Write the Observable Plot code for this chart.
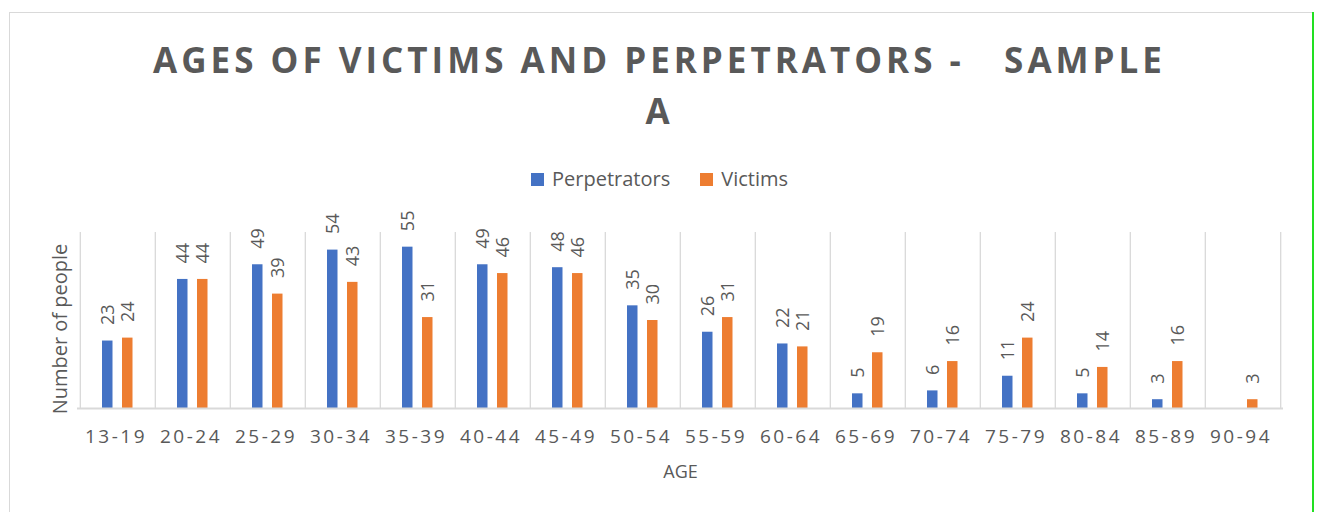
<!DOCTYPE html>
<html><head><meta charset="utf-8">
<script src="https://cdn.jsdelivr.net/npm/d3@7"></script>
<script src="https://cdn.jsdelivr.net/npm/@observablehq/plot@0.6"></script>
<style>
body{margin:0;background:#fff;font-family:"Open Sans",sans-serif;}
#wrap{position:relative;width:1319px;height:512px;overflow:hidden;}
#frame{position:absolute;left:9px;top:12px;width:1304px;height:600px;border:1.5px solid #d9d9d9;box-sizing:border-box;}
#green{position:absolute;left:1312px;top:12px;width:2px;height:500px;background:#22e022;}
.title{position:absolute;left:0;width:1319px;text-align:center;font-weight:700;font-size:35px;line-height:35px;letter-spacing:4px;color:#595959;white-space:pre;}
#legend{position:absolute;top:169px;left:0;width:1319px;display:flex;justify-content:center;align-items:center;font-size:20px;line-height:20px;color:#595959;}
#legend .sw{width:13px;height:13px;display:inline-block;margin-right:8px;}
#legend .item{display:flex;align-items:center;margin:0 15px;}
#chart{position:absolute;left:0;top:200px;}
#chart g[aria-label^="x-axis tick label"] text{letter-spacing:2.5px;}
</style></head>
<body>
<div id="wrap">
<div id="frame"></div>
<div id="green"></div>
<div class="title" id="t1" style="top:42px">AGES OF VICTIMS AND PERPETRATORS -   SAMPLE</div>
<div class="title" id="t2" style="top:93px">A</div>
<div id="legend"></div>
<div id="chart"></div>
</div>
<script>
const categories = ["13-19","20-24","25-29","30-34","35-39","40-44","45-49","50-54","55-59","60-64","65-69","70-74","75-79","80-84","85-89","90-94"];
const perpetrators = [23,44,49,54,55,49,48,35,26,22,5,6,11,5,3,null];
const victims = [24,44,39,43,31,46,46,30,31,21,19,16,24,14,16,3];
const seriesNames = ["Perpetrators","Victims"];
const seriesColors = ["#4472c4","#ed7d31"];
const yLabel = "Number of people";
const xLabel = "AGE";

const perpRows = categories.map((c,i)=>({age:c, value:perpetrators[i]})).filter(d=>d.value!=null);
const victRows = categories.map((c,i)=>({age:c, value:victims[i]})).filter(d=>d.value!=null);

// legend
const leg = document.getElementById("legend");
seriesNames.forEach((s,i)=>{
  const it = document.createElement("span"); it.className="item";
  const sw = document.createElement("span"); sw.className="sw"; sw.style.background=seriesColors[i];
  it.appendChild(sw); it.appendChild(document.createTextNode(s)); leg.appendChild(it);
});

const W = 1319, H = 312, ML = 77, MR = 36;
const step = (W-ML-MR)/categories.length;
const labelStyle = {fontSize:18, fill:"#595959", rotate:-90, textAnchor:"start", dy:-16};

const chart = Plot.plot({
  width: W, height: H,
  marginLeft: ML, marginRight: MR, marginTop: 32, marginBottom: 104,
  style: {fontFamily:"'Open Sans', sans-serif", color:"#595959", background:"transparent"},
  x: {domain: categories, padding: 0},
  y: {domain: [0, 60], axis: null},
  marks: [
    Plot.ruleX(categories, {x: d=>d, y1: 0, y2: 60, dx: -step/2, stroke:"#d9d9d9", strokeWidth:1.3}),
    Plot.ruleX([categories[categories.length-1]], {x: d=>d, y1: 0, y2: 60, dx: step/2, stroke:"#d9d9d9", strokeWidth:1.3}),
    Plot.barY(perpRows, {x:"age", y:"value", fill: seriesColors[0], insetLeft:22, insetRight:42.5}),
    Plot.barY(victRows, {x:"age", y:"value", fill: seriesColors[1], insetLeft:42, insetRight:22.5}),
    Plot.ruleY([0], {stroke:"#d9d9d9", strokeWidth:2}),
    Plot.text(perpRows, {x:"age", y:"value", text: d=>String(d.value), dx:-10, ...labelStyle}),
    Plot.text(victRows, {x:"age", y:"value", text: d=>String(d.value), dx:10, ...labelStyle}),
    Plot.axisX({tickSize:0, tickPadding:21, fontSize:19, label:null, dx:-2}),
    Plot.text([yLabel], {frameAnchor:"left", textAnchor:"middle", lineAnchor:"middle", rotate:-90, dx:-17, dy:8.5, fontSize:20, fill:"#595959"}),
    Plot.text([xLabel], {frameAnchor:"bottom", lineAnchor:"middle", dy:64, fontSize:18, fill:"#595959"})
  ]
});
document.getElementById("chart").appendChild(chart);
</script>
</body></html>
